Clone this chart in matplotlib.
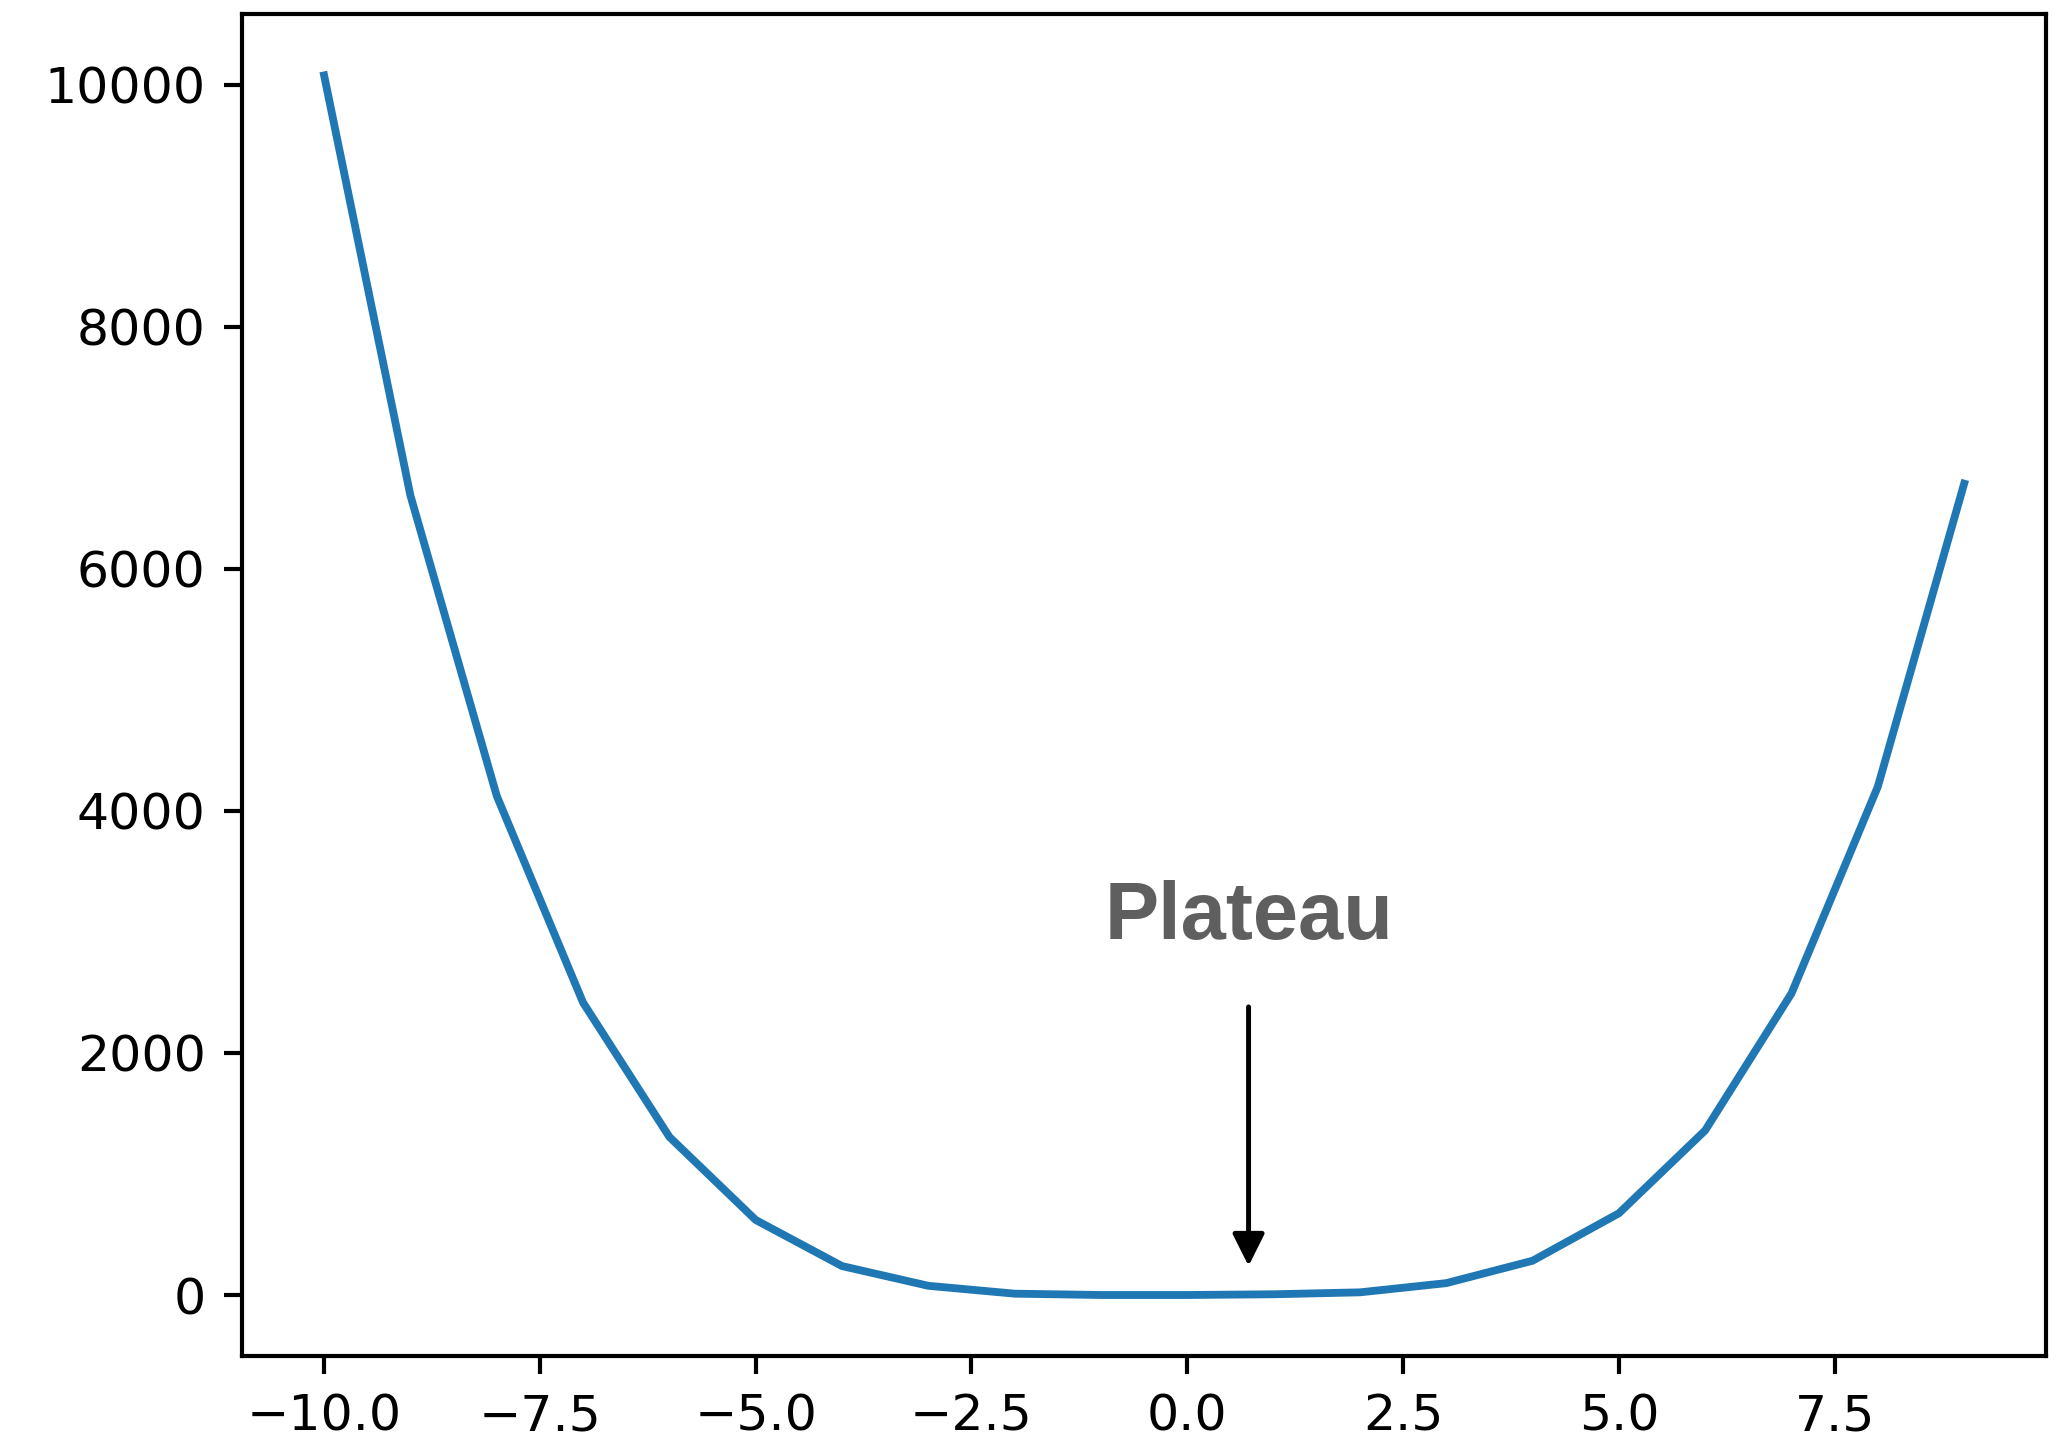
import numpy as np
import matplotlib

matplotlib.use('Agg')
import matplotlib.pyplot as plt

x = [-10, -9, -8, -7, -6, -5, -4, -3, -2, -1, 0, 1, 2, 3, 4, 5, 6, 7, 8, 9]
y = [10076, 6605, 4124, 2416, 1306, 620, 239, 76, 11, 0,
     0, 6, 22, 98, 283, 675, 1360, 2492, 4200, 6703]

label_text = "Plateau"
arrow_x = 0.71
arrow_tip = 240
arrow_tail = 2380
text_y = 2940

DPI = 375
fig = plt.figure(figsize=(2071 / DPI, 1441 / DPI), dpi=DPI)
ax = fig.add_axes([0.1169, 0.059, 0.988 - 0.1169, 0.99 - 0.059])

ax.plot(x, y, color='#1f77b4', linewidth=1.5)

ax.annotate(
    '',
    xy=(arrow_x, arrow_tip),
    xytext=(arrow_x, arrow_tail),
    arrowprops=dict(arrowstyle='-|>', color='black', lw=0.95,
                    mutation_scale=13, shrinkA=0, shrinkB=0)
)
ax.text(arrow_x, text_y, label_text, ha='center', va='baseline',
        fontsize=15.6, fontweight='bold', color='#5f5f5f',
        family=['Liberation Sans', 'DejaVu Sans'])

ax.tick_params(labelsize=9.7)

fig.savefig('out.png', dpi=DPI)
